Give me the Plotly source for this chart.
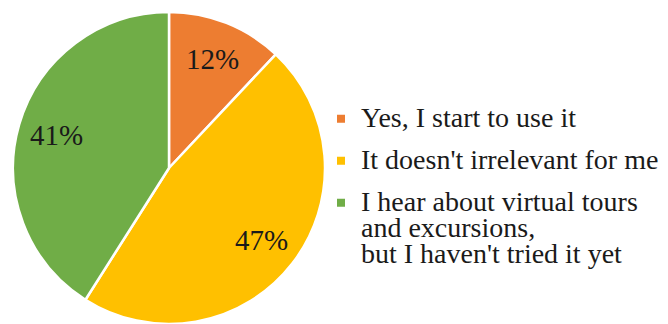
import math
import plotly.graph_objects as go

labels = ["Yes, I start to use it",
          "It doesn't irrelevant for me",
          "I hear about virtual tours<br>and excursions,<br>but I haven't tried it yet"]
values = [12, 47, 41]
colors = ["#ED7D31", "#FFC000", "#70AD47"]

W, H = 668, 324
MT, MB = 12, 0
SERIF = "Liberation Serif"


def big(label):
    return "<br>".join("<span style='font-size:28px'>%s</span>" % s for s in label.split("<br>"))


dom_x = [11 / W, 327 / W]
fig = go.Figure()
fig.add_trace(go.Pie(
    labels=labels,
    values=values,
    sort=False,
    direction="clockwise",
    rotation=0,
    marker=dict(colors=colors, line=dict(color="white", width=2.5)),
    textinfo="none",
    domain=dict(x=dom_x, y=[0, 1]),
    hoverinfo="skip",
    showlegend=False,
))

# legend entries (one per category, small square keys as in the reference)
for lab, col in zip(labels, colors):
    fig.add_trace(go.Scatter(
        x=[None], y=[None], mode="markers", name=big(lab), legendgroup=lab,
        marker=dict(symbol="square", size=8, color=col, line=dict(width=0)),
        showlegend=True, hoverinfo="skip",
    ))

# percentage labels at 0.75 of the radius, at each slice's middle angle
plot_h = H - MT - MB
radius = min((dom_x[1] - dom_x[0]) * W, plot_h) / 2
cx = (dom_x[0] + dom_x[1]) / 2
total = sum(values)
start = 0.0
annotations = []
for v in values:
    mid = (start + v / 2) / total * 2 * math.pi
    start += v
    r = 0.75 * radius
    annotations.append(dict(
        x=cx + r * math.sin(mid) / W, y=0.5 + r * math.cos(mid) / plot_h,
        xref="paper", yref="paper", showarrow=False,
        text="%d%%" % round(v / total * 100),
        font=dict(family=SERIF, size=29, color="#1a1a1a"),
        xanchor="center", yanchor="middle",
    ))

fig.update_layout(
    width=W, height=H,
    margin=dict(l=0, r=0, t=MT, b=MB),
    paper_bgcolor="white",
    plot_bgcolor="white",
    xaxis=dict(visible=False),
    yaxis=dict(visible=False),
    showlegend=True,
    annotations=annotations,
    legend=dict(
        x=321 / W, xanchor="left",
        y=0.44, yanchor="middle",
        font=dict(family=SERIF, size=20, color="#1a1a1a"),
        itemwidth=30,
        valign="top",
        traceorder="grouped",
        tracegroupgap=13,
        bgcolor="rgba(0,0,0,0)",
    ),
)

fig.write_html("out.html")
